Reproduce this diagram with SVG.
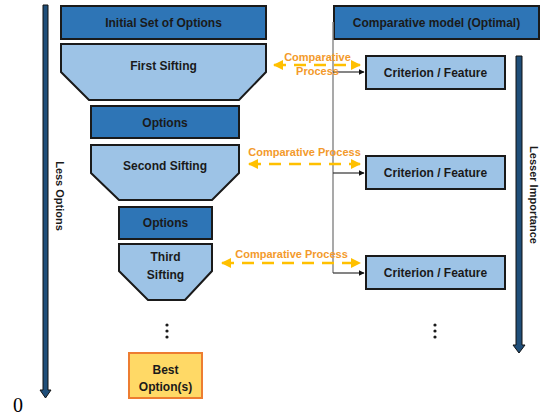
<svg xmlns="http://www.w3.org/2000/svg" width="544" height="419" viewBox="0 0 544 419">
<style>
.dark{fill:#2e75b6;stroke:#1a1a1a;stroke-width:2}
.light{fill:#9dc3e6;stroke:#1a1a1a;stroke-width:2}
.best{fill:#ffd966;stroke:#ed7d31;stroke-width:2}
.t{font-family:"Liberation Sans",Arial,sans-serif;font-weight:bold;font-size:12px;fill:#1a1a1a;text-anchor:middle}
.o{font-family:"Liberation Sans",Arial,sans-serif;font-weight:bold;font-size:11px;fill:#f39a2b;text-anchor:middle}
.dash{stroke:#ffc000;stroke-width:2.5;stroke-dasharray:12 8;fill:none}
.blk{stroke:#333;stroke-width:1.2;fill:none}
.vbar{fill:#1f4e79;stroke:#111;stroke-width:1}
</style>
<defs>
<marker id="ya" viewBox="0 0 10 10" refX="9" refY="5" markerWidth="4" markerHeight="4" orient="auto-start-reverse" markerUnits="strokeWidth"><path d="M0,0 L10,5 L0,10 z" fill="#ffc000"/></marker>
<marker id="ba" viewBox="0 0 10 10" refX="9" refY="5" markerWidth="5" markerHeight="5" orient="auto" markerUnits="strokeWidth"><path d="M0,0 L10,5 L0,10 z" fill="#111"/></marker>
</defs>

<g id="axis-left">
<path class="vbar" d="M43,5 H48 V390 H51 L45.5,398 L40,390 H43 Z"/>
<text x="60" y="196" transform="rotate(90 60 196)" class="t" style="font-size:11px" dy="4">Less Options</text>
<text x="13" y="412" font-family="Liberation Serif,serif" font-size="20" fill="#000">0</text>
</g>

<g id="axis-right">
<path class="vbar" d="M516,56 H522 V345 H525 L519,353 L513,345 H516 Z"/>
<text x="534" y="195" transform="rotate(90 534 195)" class="t" style="font-size:11px" dy="4">Lesser Importance</text>
</g>

<g id="initial">
<rect class="dark" x="61" y="6" width="205" height="33"/>
<text class="t" x="163.5" y="27">Initial Set of Options</text>
</g>
<g id="first-sifting">
<polygon class="light" points="61,44 266,44 266,72 239,100 89,100 61,72"/>
<text class="t" x="163.5" y="70">First Sifting</text>
</g>
<g id="options1">
<rect class="dark" x="91" y="106" width="148" height="32"/>
<text class="t" x="165" y="127">Options</text>
</g>
<g id="second-sifting">
<polygon class="light" points="91,145 239,145 239,173 212,200 119,200 91,173"/>
<text class="t" x="165" y="170">Second Sifting</text>
</g>
<g id="options2">
<rect class="dark" x="119" y="207" width="93" height="32"/>
<text class="t" x="165.5" y="227">Options</text>
</g>
<g id="third-sifting">
<polygon class="light" points="119,244 212,244 212,271 185,300 148,300 119,271"/>
<text class="t" x="165.5" y="261">Third</text>
<text class="t" x="165.5" y="279">Sifting</text>
</g>
<g id="dots-left" fill="#1a1a1a">
<circle cx="167" cy="325" r="1.6"/><circle cx="167" cy="331" r="1.6"/><circle cx="167" cy="337" r="1.6"/>
</g>
<g id="best">
<rect class="best" x="129" y="353" width="73" height="45"/>
<text class="t" x="165.5" y="374">Best</text>
<text class="t" x="165.5" y="391">Option(s)</text>
</g>

<g id="model">
<rect class="dark" x="334" y="6" width="205" height="33"/>
<text class="t" x="436.5" y="27">Comparative model (Optimal)</text>
</g>
<g id="crit1">
<rect class="light" x="366" y="56" width="139" height="33"/>
<text class="t" x="435.5" y="77">Criterion / Feature</text>
</g>
<g id="crit2">
<rect class="light" x="366" y="156" width="139" height="33"/>
<text class="t" x="435.5" y="177">Criterion / Feature</text>
</g>
<g id="crit3">
<rect class="light" x="366" y="256" width="139" height="33"/>
<text class="t" x="435.5" y="277">Criterion / Feature</text>
</g>
<g id="dots-right" fill="#1a1a1a">
<circle cx="435" cy="325" r="1.6"/><circle cx="435" cy="331" r="1.6"/><circle cx="435" cy="337" r="1.6"/>
</g>

<g id="connectors">
<path d="M333,22 V273" stroke="#8c8c8c" stroke-width="1.5" fill="none"/>
<path class="blk" d="M333,72 H364" marker-end="url(#ba)"/>
<path class="blk" d="M333,173 H364" marker-end="url(#ba)"/>
<path class="blk" d="M333,273 H364" marker-end="url(#ba)"/>
<path class="dash" d="M274,65 H360" marker-start="url(#ya)" marker-end="url(#ya)"/>
<path class="dash" d="M249,164 H360" marker-start="url(#ya)" marker-end="url(#ya)"/>
<path class="dash" d="M222,263 H360" marker-start="url(#ya)" marker-end="url(#ya)"/>
<text class="o" x="317.5" y="61">Comparative</text>
<text class="o" x="317.5" y="75">Process</text>
<text class="o" x="304.5" y="156">Comparative Process</text>
<text class="o" x="291.5" y="258">Comparative Process</text>
</g>
</svg>
